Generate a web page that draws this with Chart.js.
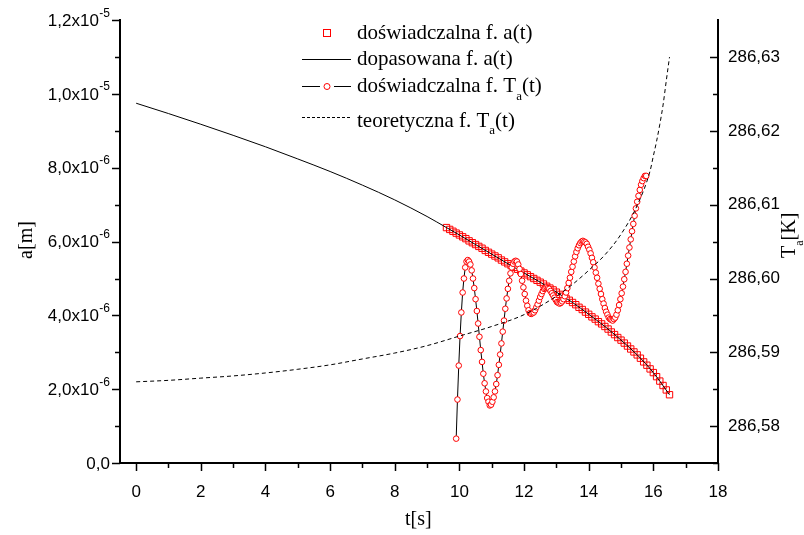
<!DOCTYPE html>
<html>
<head>
<meta charset="utf-8">
<script src="https://cdn.jsdelivr.net/npm/chart.js@4.4.1/dist/chart.umd.min.js"></script>
<style>
  html, body { margin: 0; padding: 0; background: #fff; }
  #wrap { position: relative; width: 804px; height: 535px; }
</style>
</head>
<body>
<div id="wrap"><canvas id="wykres" width="804" height="535"></canvas></div>
<script>
// ── DANE ───────────────────────────────────────────────
const aUnit = 1e-6; // a[m] zapisane w 1e-6 m

// dopasowana f. a(t)
const fitT = [0, 1, 2, 3, 4, 5, 6, 7, 8, 9, 9.6, 10, 10.5, 11, 11.5, 12, 12.5, 13, 13.5, 14, 14.5, 15, 15.5, 16, 16.5];
const fitA = [9.75, 9.47, 9.18, 8.88, 8.57, 8.24, 7.90, 7.53, 7.13, 6.68, 6.38, 6.18, 5.92, 5.66, 5.40, 5.15, 4.90, 4.63, 4.35, 4.03, 3.70, 3.33, 2.93, 2.45, 1.85];

// doświadczalna f. a(t) - próbki co 0.1 s od 9.6 s
const sqStart = 9.6, sqStep = 0.1;
const sqA = [6.38, 6.33, 6.28, 6.23, 6.18, 6.13, 6.08, 6.02, 5.97, 5.92,
             5.87, 5.82, 5.76, 5.71, 5.66, 5.61, 5.56, 5.50, 5.45, 5.40,
             5.35, 5.30, 5.25, 5.20, 5.15, 5.10, 5.05, 5.00, 4.95, 4.90,
             4.85, 4.79, 4.74, 4.69, 4.63, 4.57, 4.52, 4.46, 4.41, 4.35,
             4.29, 4.22, 4.16, 4.09, 4.03, 3.96, 3.90, 3.83, 3.77, 3.70,
             3.63, 3.55, 3.48, 3.40, 3.33, 3.25, 3.17, 3.09, 3.01, 2.93,
             2.84, 2.74, 2.65, 2.55, 2.45, 2.34, 2.22, 2.10, 1.98, 1.85];

// doświadczalna f. Ta(t) - próbki co 0.04 s od 9.90 s
const tStart = 9.90, tStep = 0.04;
const taExp = [
  286.5783, 286.5836, 286.5882, 286.5922, 286.5954, 286.5981, 286.6000, 286.6015, 286.6023, 286.6025,
  286.6023, 286.6019, 286.6011, 286.6000, 286.5987, 286.5972, 286.5956, 286.5939, 286.5921, 286.5903,
  286.5887, 286.5871, 286.5858, 286.5847, 286.5838, 286.5833, 286.5828,
  286.5829, 286.5833, 286.5839, 286.5847, 286.5857, 286.5869, 286.5883, 286.5897, 286.5912, 286.5928,
  286.5943, 286.5959, 286.5973, 286.5986, 286.5997, 286.6007, 286.6015, 286.6020, 286.6023, 286.6024,
  286.6023, 286.6019, 286.6013, 286.6006, 286.5997, 286.5988, 286.5979, 286.5970, 286.5963, 286.5957,
  286.5953, 286.5952,
  286.5953, 286.5954, 286.5957, 286.5961, 286.5965, 286.5970, 286.5975, 286.5979, 286.5983, 286.5986,
  286.5987, 286.5988,
  286.5987, 286.5986, 286.5983, 286.5980, 286.5977, 286.5974, 286.5971, 286.5968, 286.5967, 286.5966,
  286.5967, 286.5969, 286.5972, 286.5976, 286.5981, 286.5987, 286.5994, 286.6001, 286.6009, 286.6016,
  286.6023, 286.6030, 286.6036, 286.6041, 286.6045, 286.6048, 286.6050, 286.6051,
  286.6050, 286.6049, 286.6047, 286.6043, 286.6039, 286.6034, 286.6028, 286.6022, 286.6015, 286.6008,
  286.6001, 286.5993, 286.5986, 286.5979, 286.5972, 286.5966, 286.5960, 286.5955, 286.5951, 286.5947,
  286.5945, 286.5944, 286.5943,
  286.5945, 286.5947, 286.5951, 286.5957, 286.5964, 286.5972, 286.5980, 286.5989, 286.5999, 286.6009,
  286.6020, 286.6031, 286.6042, 286.6053, 286.6064, 286.6074, 286.6085, 286.6095, 286.6104, 286.6112,
  286.6120, 286.6127, 286.6132, 286.6136, 286.6139, 286.6139
];

// teoretyczna f. Ta(t)
const theoT  = [0, 1, 2, 3, 4, 5, 6, 7, 8, 9, 10, 11, 12, 13, 13.5, 14, 14.5, 15, 15.5, 15.9, 16.0, 16.1, 16.2, 16.3, 16.4, 16.5];
const theoTa = [286.5860, 286.5862, 286.5865, 286.5868, 286.5872, 286.5877, 286.5883, 286.5891, 286.5899, 286.5909,
                286.5922, 286.5935, 286.5951, 286.5976, 286.5992, 286.6011, 286.6032, 286.6060, 286.6099, 286.6146,
                286.6166, 286.6186, 286.6209, 286.6235, 286.6268, 286.6300];

// osie
const xTicks  = [0, 2, 4, 6, 8, 10, 12, 14, 16, 18];
const yTicks  = [0, 2e-6, 4e-6, 6e-6, 8e-6, 1e-5, 1.2e-5];
const yLabels = ['0,0', '2,0x10', '4,0x10', '6,0x10', '8,0x10', '1,0x10', '1,2x10'];
const yExps   = ['', '-6', '-6', '-6', '-6', '-5', '-5'];
const y2Ticks = [286.58, 286.59, 286.60, 286.61, 286.62, 286.63];

// ── WYKRES ─────────────────────────────────────────────
const SANS  = '"Liberation Sans", Arial, sans-serif';
const SERIF = '"Liberation Serif", "Times New Roman", serif';

function txt(ctx, parts, x, y, size) {
    // parts: [tekst, indeks dolny?]
    ctx.textAlign = 'left';
    ctx.textBaseline = 'alphabetic';
    parts.forEach(([s, sub]) => {
        ctx.font = (sub ? Math.round(size * 0.62) : size) + 'px ' + SERIF;
        ctx.fillText(s, x, y + (sub ? size * 0.38 : 0));
        x += ctx.measureText(s).width;
    });
}

const dodatki = {
    id: 'dodatki',
    afterDraw(chart) {
        const ctx = chart.ctx;
        const a = chart.chartArea;
        const sx = chart.scales.x, sy = chart.scales.y, sy2 = chart.scales.y2;
        ctx.save();
        ctx.strokeStyle = '#000';
        ctx.fillStyle = '#000';
        ctx.lineWidth = 1.5;

        // kreski podziałki
        ctx.beginPath();
        for (let v = 0; v <= 18; v++) {
            const px = Math.round(sx.getPixelForValue(v)) + 0.5;
            ctx.moveTo(px, a.bottom);
            ctx.lineTo(px, a.bottom + (v % 2 === 0 ? 8 : 5));
        }
        for (let i = 0; i <= 12; i++) {
            const py = Math.round(sy.getPixelForValue(i * 1e-6)) + 0.5;
            ctx.moveTo(a.left, py);
            ctx.lineTo(a.left - (i % 2 === 0 ? 8 : 5), py);
        }
        for (let i = 0; i <= 11; i++) {
            const v = 286.575 + i * 0.005;
            const py = Math.round(sy2.getPixelForValue(v)) + 0.5;
            ctx.moveTo(a.right, py);
            ctx.lineTo(a.right - (i % 2 === 1 ? 8 : 5), py);
        }
        ctx.stroke();

        // etykiety osi a[m]
        ctx.textBaseline = 'middle';
        yTicks.forEach((v, i) => {
            const py = sy.getPixelForValue(v);
            let xr = 110;
            if (yExps[i]) {
                ctx.font = '12px ' + SANS;
                ctx.textAlign = 'right';
                ctx.fillText(yExps[i], xr, py - 7);
                xr -= ctx.measureText(yExps[i]).width + 0.5;
            }
            ctx.font = '17px ' + SANS;
            ctx.textAlign = 'right';
            ctx.fillText(yLabels[i], xr, py + 1);
        });

        // tytuły osi
        txt(ctx, [['t[s]', 0]], 405, 525, 20);
        ctx.save();
        ctx.translate(32, 240);
        ctx.rotate(-Math.PI / 2);
        ctx.textAlign = 'center';
        ctx.font = '20px ' + SERIF;
        ctx.fillText('a[m]', 0, 0);
        ctx.restore();
        ctx.save();
        ctx.translate(795, 258);
        ctx.rotate(-Math.PI / 2);
        txt(ctx, [['T', 0], ['a', 1], ['[K]', 0]], 0, 0, 20);
        ctx.restore();

        // legenda
        ctx.lineWidth = 1;
        ctx.strokeStyle = '#ff0000';
        ctx.strokeRect(323.5, 29.5, 7, 7);
        ctx.strokeStyle = '#000';
        ctx.beginPath();
        ctx.moveTo(302, 59.5); ctx.lineTo(351, 59.5);
        ctx.moveTo(302, 86.5); ctx.lineTo(320, 86.5);
        ctx.moveTo(334, 86.5); ctx.lineTo(351, 86.5);
        ctx.stroke();
        ctx.strokeStyle = '#ff0000';
        ctx.beginPath();
        ctx.arc(327, 86.5, 3, 0, Math.PI * 2);
        ctx.stroke();
        ctx.strokeStyle = '#000';
        ctx.setLineDash([3, 2]);
        ctx.beginPath();
        ctx.moveTo(302, 117.5); ctx.lineTo(351, 117.5);
        ctx.stroke();
        ctx.setLineDash([]);

        txt(ctx, [['doświadczalna f. a(t)', 0]], 357, 38.5, 21);
        txt(ctx, [['dopasowana f. a(t)', 0]], 357, 65, 21);
        txt(ctx, [['doświadczalna f. T', 0], ['a', 1], ['(t)', 0]], 357, 92, 21);
        txt(ctx, [['teoretyczna f. T', 0], ['a', 1], ['(t)', 0]], 357, 126.5, 21);
        ctx.restore();
    }
};

new Chart(document.getElementById('wykres'), {
    type: 'scatter',
    data: {
        datasets: [
            {
                label: 'teoretyczna f. Ta(t)',
                data: theoT.map((t, i) => ({ x: t, y: theoTa[i] })),
                yAxisID: 'y2',
                showLine: true,
                borderColor: '#000',
                borderWidth: 1,
                borderDash: [4, 3],
                pointRadius: 0,
                cubicInterpolationMode: 'monotone',
                order: 0
            },
            {
                label: 'doświadczalna f. Ta(t)',
                data: taExp.map((v, i) => ({ x: tStart + i * tStep, y: v })),
                yAxisID: 'y2',
                showLine: true,
                borderColor: '#000',
                borderWidth: 1,
                pointStyle: 'circle',
                pointRadius: 2.8,
                pointBorderWidth: 1,
                pointBorderColor: '#ff0000',
                pointBackgroundColor: '#ffffff',
                order: 1
            },
            {
                label: 'dopasowana f. a(t)',
                data: fitT.map((t, i) => ({ x: t, y: fitA[i] * aUnit })),
                yAxisID: 'y',
                showLine: true,
                borderColor: '#000',
                borderWidth: 1,
                pointRadius: 0,
                cubicInterpolationMode: 'monotone',
                order: 2
            },
            {
                label: 'doświadczalna f. a(t)',
                data: sqA.map((v, i) => ({ x: sqStart + i * sqStep, y: v * aUnit })),
                yAxisID: 'y',
                showLine: false,
                pointStyle: 'rect',
                pointRadius: 4.5,
                pointBorderWidth: 1,
                pointBorderColor: '#ff0000',
                pointBackgroundColor: 'rgba(0,0,0,0)',
                order: 3
            }
        ]
    },
    options: {
        responsive: false,
        animation: false,
        layout: { padding: { top: 19, left: 0, right: 0, bottom: 0 } },
        plugins: { legend: { display: false }, tooltip: { enabled: false } },
        scales: {
            x: {
                type: 'linear',
                min: -0.5, max: 18,
                grid: { display: false, drawTicks: false },
                border: { display: true, color: '#000', width: 2 },
                afterBuildTicks: s => { s.ticks = xTicks.map(v => ({ value: v })); },
                afterFit: s => { s.height = 72; },
                ticks: {
                    color: '#000',
                    padding: 19,
                    maxRotation: 0,
                    font: { family: SANS, size: 17 },
                    callback: v => String(v)
                }
            },
            y: {
                type: 'linear',
                position: 'left',
                min: 0, max: 1.2e-5,
                grid: { display: false, drawTicks: false },
                border: { display: true, color: '#000', width: 2 },
                afterBuildTicks: s => { s.ticks = yTicks.map(v => ({ value: v })); },
                afterFit: s => { s.width = 120; },
                ticks: { display: false }
            },
            y2: {
                type: 'linear',
                position: 'right',
                min: 286.575, max: 286.635,
                grid: { display: false, drawTicks: false },
                border: { display: true, color: '#000', width: 2 },
                afterBuildTicks: s => { s.ticks = y2Ticks.map(v => ({ value: v })); },
                afterFit: s => { s.width = 86; },
                ticks: {
                    color: '#000',
                    padding: 10,
                    font: { family: SANS, size: 17 },
                    callback: v => v.toFixed(2).replace('.', ',')
                }
            }
        }
    },
    plugins: [dodatki]
});
</script>
</body>
</html>
